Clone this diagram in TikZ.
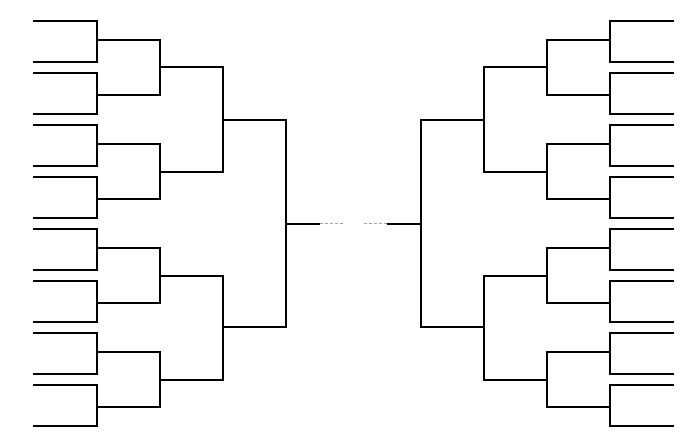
\documentclass[tikz,border=0pt]{standalone}
\begin{document}
\begin{tikzpicture}[x=1pt,y=-1pt,line width=2pt,
  bline/.style={draw=black,line join=miter},
  fline/.style={draw=black!35,line width=1.5pt,dashed,dash pattern=on 3pt off 2pt}]
\useasboundingbox (0,0) rectangle (700,438);
\fill[white] (0,0) rectangle (700,438);
\foreach \side in {0,1}{
\begin{scope}[xshift={\side*707pt},xscale={1-2*\side}]
  % first round
  \foreach \a/\b/\m in {21/62/40,73/114/95,125/166/144,177/218/199,229/270/248,281/322/303,333/374/352,385/426/407}{
    \draw[bline] (33,\a) -- (97,\a) -- (97,\b) -- (33,\b);
    \draw[bline] (97,\m) -- (160,\m);
  }
  % second round
  \foreach \a/\b/\m in {40/95/67,144/199/171.7,248/303/275.7,352/407/379.7}{
    \draw[bline] (97,\a) -- (160,\a) -- (160,\b) -- (97,\b);
    \draw[bline] (160,\m) -- (223,\m);
  }
  % third round
  \foreach \a/\b/\m in {67/171.7/120,275.7/379.7/327}{
    \draw[bline] (160,\a) -- (223,\a) -- (223,\b) -- (160,\b);
    \draw[bline] (223,\m) -- (286,\m);
  }
  % fourth round
  \draw[bline] (223,120) -- (286,120) -- (286,327) -- (223,327);
  \draw[bline] (286,223.7) -- (320,223.7);
  \draw[fline] (320,223.7) -- (343,223.7);
\end{scope}
}
\end{tikzpicture}
\end{document}
